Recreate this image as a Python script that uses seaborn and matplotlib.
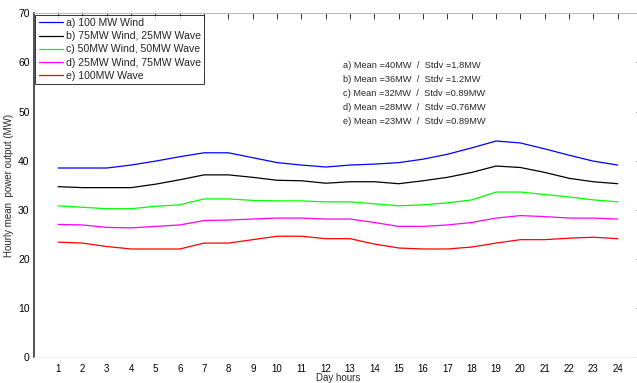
import matplotlib
matplotlib.use("Agg")
import matplotlib.pyplot as plt
import seaborn as sns
import pandas as pd

# ---------------------------------------------------------------------------
# data
# ---------------------------------------------------------------------------
hours = list(range(1, 25))

wind_100 = [38.5, 38.5, 38.5, 39.1, 39.9, 40.8, 41.6, 41.6, 40.6, 39.6, 39.1, 38.7,
            39.1, 39.3, 39.6, 40.3, 41.3, 42.6, 44.0, 43.6, 42.4, 41.1, 39.9, 39.1]
wind75_wave25 = [34.7, 34.5, 34.5, 34.5, 35.2, 36.1, 37.1, 37.1, 36.6, 36.0, 35.9, 35.4,
                 35.7, 35.7, 35.3, 35.9, 36.6, 37.6, 38.9, 38.6, 37.6, 36.4, 35.7, 35.3]
wind50_wave50 = [30.8, 30.5, 30.2, 30.2, 30.7, 31.0, 32.2, 32.2, 31.9, 31.8, 31.8, 31.6,
                 31.6, 31.2, 30.8, 31.0, 31.4, 32.0, 33.6, 33.6, 33.1, 32.6, 32.0, 31.6]
wind25_wave75 = [27.0, 26.9, 26.4, 26.3, 26.6, 26.9, 27.8, 27.9, 28.1, 28.3, 28.3, 28.1,
                 28.1, 27.4, 26.6, 26.6, 26.9, 27.4, 28.3, 28.8, 28.6, 28.3, 28.3, 28.1]
wave_100 = [23.4, 23.2, 22.5, 22.0, 22.0, 22.0, 23.2, 23.2, 23.9, 24.6, 24.6, 24.1,
            24.1, 23.0, 22.2, 22.0, 22.0, 22.4, 23.2, 23.9, 23.9, 24.2, 24.4, 24.1]

series_names = ["a) 100 MW Wind", "b) 75MW Wind, 25MW Wave", "c) 50MW Wind, 50MW Wave",
                "d) 25MW Wind, 75MW Wave", "e) 100MW Wave"]
series_values = [wind_100, wind75_wave25, wind50_wave50, wind25_wave75, wave_100]
series_colors = ["#0000ff", "#000000", "#00ff00", "#ff00ff", "#ff0000"]

stats_lines = ["a) Mean =40MW  /  Stdv =1.8MW",
               "b) Mean =36MW  /  Stdv =1.2MW",
               "c) Mean =32MW  /  Stdv =0.89MW",
               "d) Mean =28MW  /  Stdv =0.76MW",
               "e) Mean =23MW  /  Stdv =0.89MW"]

y_ticks = [0, 10, 20, 30, 40, 50, 60, 70]

# ---------------------------------------------------------------------------
sns.set_style("white")
plt.rcParams['font.family'] = ['Liberation Sans', 'DejaVu Sans']

df = pd.DataFrame({
    "hour": hours * len(series_names),
    "power": [v for vals in series_values for v in vals],
    "series": [n for n in series_names for _ in hours],
})

fig = plt.figure(figsize=(6.37, 3.83), dpi=100)
# right edge runs slightly past the figure, as in the cropped scan
ax = fig.add_axes([0.053, 0.068, 0.955, 0.897])

sns.lineplot(data=df, x="hour", y="power", hue="series", hue_order=series_names,
             palette=series_colors, linewidth=0.9, ax=ax)

ax.set_xlim(0, 25)
ax.set_ylim(0, 70)
ax.set_xticks(hours)
ax.set_yticks(y_ticks)
ax.tick_params(direction="in", length=4, width=0.7, labelsize=7.5, pad=3,
               top=True, right=True, colors="#333333", labelcolor="black")
ax.tick_params(axis="x", labelsize=7, pad=5)
for t in ax.xaxis.get_ticklines()[1::2]:
    t.set_color("#999999")

ax.spines["left"].set_color("#444444")
ax.spines["left"].set_linewidth(1.3)
ax.spines["top"].set_color("#bbbbbb")
ax.spines["top"].set_linewidth(0.8)
ax.spines["bottom"].set_color("#eeeeee")
ax.spines["bottom"].set_linewidth(0.6)
ax.spines["right"].set_visible(False)

ax.set_xlabel("Day hours", fontsize=7, labelpad=-1)
ax.set_ylabel("Hourly mean  power output (MW)", fontsize=7, labelpad=3)

leg = ax.legend(loc="upper left", fontsize=7.6, frameon=True, fancybox=False,
                borderaxespad=0.15, handlelength=2.3, labelspacing=0.3,
                handletextpad=0.3, borderpad=0.3)
leg.get_frame().set_edgecolor("black")
leg.get_frame().set_linewidth(0.7)

for i, line in enumerate(stats_lines):
    ax.text(0.508, 0.848 - i * 0.041, line, transform=ax.transAxes,
            fontsize=6.7, va="center", ha="left")

fig.savefig("out.png", dpi=100, facecolor="white")
